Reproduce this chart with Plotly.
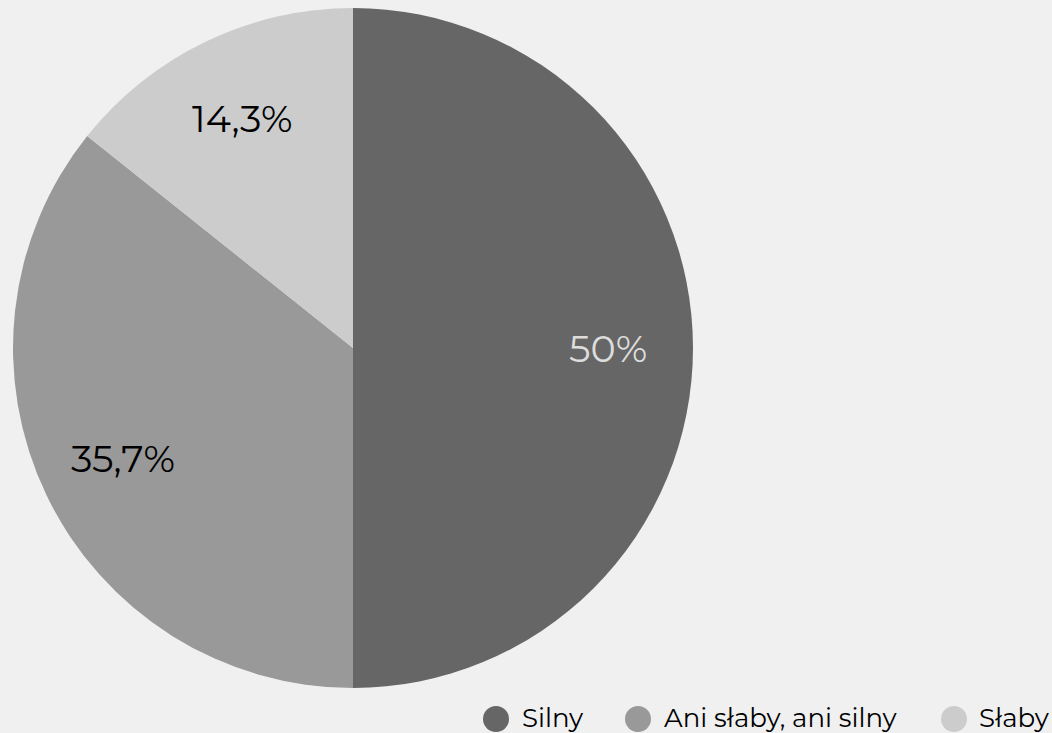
import math
import plotly.graph_objects as go

labels = ["Silny", "Ani słaby, ani silny", "Słaby"]
values = [7, 5, 2]
colors = ["#666666", "#999999", "#cccccc"]
text_colors = ["#dddddd", "#000000", "#000000"]

FONT = "Montserrat, Lato, 'Open Sans', sans-serif"
W, H = 1052, 733

# pie geometry (pixels)
CX, CY, R = 353, 348, 340
LABEL_R = 0.75

fig = go.Figure()
fig.add_trace(go.Pie(
    labels=labels, values=values, sort=False, direction="clockwise", rotation=0,
    marker=dict(colors=colors, line=dict(width=0)),
    textinfo="none", showlegend=False, hoverinfo="label+percent",
    domain=dict(x=[(CX - R) / W, (CX + R) / W], y=[1 - (CY + R) / H, 1 - (CY - R) / H]),
))

# percentage labels placed at 0.75 R along each slice's mid angle
total = sum(values)
cum = 0
for v, tc in zip(values, text_colors):
    mid = (cum + v / 2) / total * 2 * math.pi
    cum += v
    pct = v / total * 100
    txt = f"{pct:.3g}".replace(".", ",") + "%"
    px = CX + LABEL_R * R * math.sin(mid)
    py = CY - LABEL_R * R * math.cos(mid)
    fig.add_annotation(x=px / W, y=1 - py / H, xref="paper", yref="paper",
                       text=txt, showarrow=False, xanchor="center", yanchor="middle",
                       font=dict(family=FONT, size=38, color=tc))

# custom legend (circle + label), bottom right
legend_circle_cx = [496, 638, 954]
legend_text_x = [520, 662, 977]
LEG_Y = 718
LEG_D = 26
for lab, col, ccx, tx in zip(labels, colors, legend_circle_cx, legend_text_x):
    fig.add_shape(type="circle", xref="paper", yref="paper",
                  x0=(ccx - LEG_D / 2) / W, x1=(ccx + LEG_D / 2) / W,
                  y0=1 - (LEG_Y + 1 + LEG_D / 2) / H, y1=1 - (LEG_Y + 1 - LEG_D / 2) / H,
                  fillcolor=col, line=dict(width=0))
    fig.add_annotation(x=tx / W, y=1 - LEG_Y / H, xref="paper", yref="paper",
                       text=lab, showarrow=False, xanchor="left", yanchor="middle",
                       font=dict(family=FONT, size=26, color="#000000"))

fig.update_layout(
    width=W, height=H,
    paper_bgcolor="#f0f0f0", plot_bgcolor="#f0f0f0",
    margin=dict(l=0, r=0, t=0, b=0),
    separators=", ",
    font=dict(family=FONT),
)
fig.write_html("out.html", config={"displayModeBar": False},
               post_script="document.body.style.margin='0';document.body.style.background='#f0f0f0';")
